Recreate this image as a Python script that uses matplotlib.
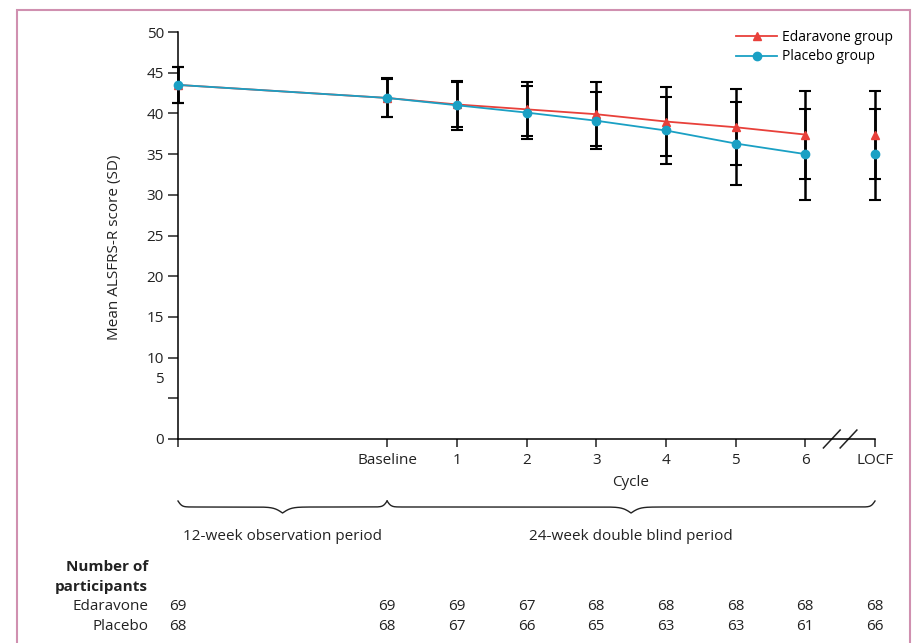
import numpy as np
import matplotlib
matplotlib.use("Agg")
import matplotlib.pyplot as plt
from matplotlib import transforms
from matplotlib.lines import Line2D
from matplotlib.patches import Rectangle

plt.rcParams["font.family"] = ["Open Sans", "DejaVu Sans"]
plt.rcParams["font.size"] = 11

# x positions: observation start, baseline, cycles 1-6, LOCF
x_pos = np.array([-3, 0, 1, 2, 3, 4, 5, 6, 7])
x_labels = ["", "Baseline", "1", "2", "3", "4", "5", "6", "LOCF"]

edaravone_mean = [43.5, 41.9, 41.1, 40.5, 39.9, 39.0, 38.3, 37.4, 37.4]
edaravone_sd = [2.2, 2.4, 2.8, 3.3, 3.9, 4.2, 4.7, 5.4, 5.4]
placebo_mean = [43.5, 41.9, 41.0, 40.1, 39.1, 37.9, 36.3, 35.0, 35.0]
placebo_sd = [2.2, 2.3, 3.0, 3.3, 3.5, 4.1, 5.1, 5.6, 5.6]

n_edaravone = [69, 69, 69, 67, 68, 68, 68, 68, 68]
n_placebo = [68, 68, 67, 66, 65, 63, 63, 61, 66]

red = "#e8403a"
blue = "#1aa0c4"
ink = "#222222"
W, H = 913, 643

fig = plt.figure(figsize=(W / 100, H / 100), dpi=100)
ax = fig.add_axes([178 / W, 1 - 439 / H, 697 / W, 407 / H])

# lines (LOCF point not connected)
ax.plot(x_pos[:-1], edaravone_mean[:-1], color=red, lw=1.3, zorder=2)
ax.plot(x_pos[:-1], placebo_mean[:-1], color=blue, lw=1.3, zorder=2)
ax.errorbar(x_pos, edaravone_mean, yerr=edaravone_sd, fmt="none", ecolor="black",
            elinewidth=1.8, capsize=4.5, capthick=1.5, zorder=3, clip_on=False)
ax.errorbar(x_pos, placebo_mean, yerr=placebo_sd, fmt="none", ecolor="black",
            elinewidth=1.8, capsize=4.5, capthick=1.5, zorder=3, clip_on=False)
ax.plot(x_pos, edaravone_mean, ls="none", marker="^", ms=6, color=red,
        zorder=4, clip_on=False)
ax.plot(x_pos, placebo_mean, ls="none", marker="o", ms=6, color=blue,
        zorder=5, clip_on=False)

ax.set_xlim(-3, 7)
ax.set_ylim(0, 50)
for s in ["top", "right"]:
    ax.spines[s].set_visible(False)
ax.spines["left"].set_linewidth(1.1)
ax.spines["bottom"].set_linewidth(1.1)

ax.set_xticks(x_pos, x_labels)
ax.set_yticks(np.arange(0, 51, 5),
              ["0", ""] + [str(v) for v in range(10, 51, 5)])
# the "5" label sits off its tick in the original
ax.set_yticks([7.5], ["5"], minor=True)
ax.tick_params(axis="y", which="major", length=7, width=1.1, pad=3, labelsize=11,
               colors=ink)
ax.tick_params(axis="y", which="minor", length=0, pad=10, labelsize=11,
               colors=ink)
ax.tick_params(axis="x", length=6, width=1.1, pad=4, labelsize=11, colors=ink)
ax.set_ylabel("Mean ALSFRS-R score (SD)", fontsize=11, color=ink)
ax.yaxis.set_label_coords(-0.080, 0.47)

# axis break between cycle 6 and LOCF
bt = transforms.blended_transform_factory(ax.transData, ax.transAxes)
for x0 in [6.26, 6.50]:
    ax.add_line(Line2D([x0, x0 + 0.24], [-0.022, 0.022], color=ink, lw=1.1,
                       transform=bt, clip_on=False))

# legend
handles = [Line2D([], [], color=red, marker="^", ms=6, lw=1.3),
           Line2D([], [], color=blue, marker="o", ms=6, lw=1.3)]
fig.legend(handles, ["Edaravone group", "Placebo group"], loc="upper right",
           bbox_to_anchor=(905 / W, 1 - 17 / H), frameon=False, fontsize=10,
           handlelength=3.0, handletextpad=0.3, labelspacing=0.35)

# labels and braces below the axis
ft = transforms.blended_transform_factory(ax.transData, fig.transFigure)


def fy(py):
    return 1 - py / H


def brace(x0, x1, y_end, beta_end=35, beta_tip=16):
    span = x1 - x0
    xh = np.linspace(0, span / 2, 300)
    yh = (1 / (1 + np.exp(-beta_end * (xh - xh[0])))
          + 1 / (1 + np.exp(-beta_tip * (xh - xh[-1]))))
    xs = np.concatenate([x0 + xh, x0 + span - xh[-2::-1]])
    ys = np.concatenate([yh, yh[-2::-1]])
    py = y_end + (ys - 0.5) * 12
    fig.add_artist(Line2D(xs, fy(py), color=ink, lw=1.0, transform=ft))


brace(-3, 0, 501)
brace(0, 7, 501)

fig.text(3.5, fy(483), "Cycle", transform=ft, ha="center", va="center",
         fontsize=11, color=ink)
fig.text(-1.5, fy(536), "12-week observation period", transform=ft,
         ha="center", va="center", fontsize=11, color=ink)
fig.text(3.5, fy(536), "24-week double blind period", transform=ft,
         ha="center", va="center", fontsize=11, color=ink)

fig.text(148 / W, fy(567), "Number of", ha="right", va="center",
         fontsize=11, fontweight="bold", color=ink)
fig.text(148 / W, fy(587), "participants", ha="right", va="center",
         fontsize=11, fontweight="bold", color=ink)
fig.text(148 / W, fy(606), "Edaravone", ha="right", va="center",
         fontsize=11, color=ink)
fig.text(148 / W, fy(626), "Placebo", ha="right", va="center",
         fontsize=11, color=ink)
for xv, ne, npl in zip(x_pos, n_edaravone, n_placebo):
    fig.text(xv, fy(606), str(ne), transform=ft, ha="center", va="center",
             fontsize=11, color=ink)
    fig.text(xv, fy(626), str(npl), transform=ft, ha="center", va="center",
             fontsize=11, color=ink)

# page frame
fig.add_artist(Rectangle((17 / W, -0.05), (910 - 17) / W, fy(10) + 0.05,
                         fill=False, edgecolor="#d090b0", lw=1.5,
                         transform=fig.transFigure))

fig.savefig("out.png", dpi=100)
